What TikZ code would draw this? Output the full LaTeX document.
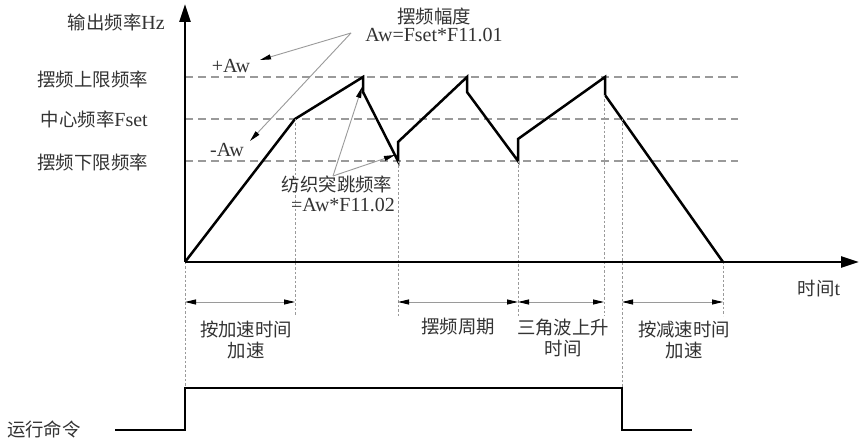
\documentclass[tikz,border=0pt]{standalone}
\usepackage{fontspec}
\setmainfont{Liberation Serif}
\newfontfamily\cjk{Noto Sans CJK SC}[Scale=0.92]
\usepackage{tikz}
\usetikzlibrary{positioning,arrows.meta,calc}
\definecolor{GuideGray}{HTML}{9A9A9A}
\definecolor{TextDark}{HTML}{333333}

\begin{document}
\begin{tikzpicture}[x=1pt,y=-1pt,
    every node/.style={font=\fontsize{20}{21}\selectfont,text=TextDark,inner sep=1pt},
    wave/.style={line width=2.5pt,line join=miter},
    axis/.style={line width=2.4pt,-{Triangle[length=18pt,width=11pt]}},
    guide/.style={GuideGray,line width=1.2pt,dash pattern=on 8pt off 5pt},
    vguide/.style={GuideGray,line width=0.9pt,dash pattern=on 2.5pt off 2pt},
    dim/.style={{Triangle[length=11pt,width=5pt,color=black]}-{Triangle[length=11pt,width=5pt,color=black]},GuideGray,line width=0.9pt},
    ar/.style={-{Triangle[length=11pt,width=5pt,color=black]},GuideGray,line width=0.9pt}]
  \useasboundingbox (0,0) rectangle (860,438);
  \fill[white] (0,0) rectangle (860,438);

  % axes
  \coordinate (o) at (185,262);
  \coordinate (ytop) at (185,4);
  \coordinate (xend) at (859,262);
  \draw[guide] (185,77) -- (738,77);
  \draw[guide] (185,119) -- (738,119);
  \draw[guide] (185,161) -- (738,161);

  % output frequency
  \coordinate (w1) at (295,119);  \coordinate (w2) at (363,77);
  \coordinate (w3) at (363,92);   \coordinate (w4) at (398,161);
  \coordinate (w5) at (398,142);  \coordinate (w6) at (467,77);
  \coordinate (w7) at (467,92);   \coordinate (w8) at (518,161);
  \coordinate (w9) at (518,139);  \coordinate (w10) at (605,77);
  \coordinate (w11) at (605,95);  \coordinate (w12) at (723,262);
  \coordinate (wc) at (622,119);
  \draw[wave] (o) -- (w1) -- (w2) -- (w3) -- (w4) -- (w5) -- (w6) -- (w7)
    -- (w8) -- (w9) -- (w10) -- (w11) -- (w12);

  % run command
  \coordinate (r0) at (115,430); \coordinate (r1) at (185,430);
  \coordinate (r2) at (185,388); \coordinate (r3) at (622,388);
  \coordinate (r4) at (622,430); \coordinate (r5) at (692,430);
  \draw[line width=2.3pt] (r0) -- (r1) -- (r2) -- (r3) -- (r4) -- (r5);

  % time marks
  \draw[vguide] (o) -- (r2);
  \draw[vguide] (w1) -- (295,316);
  \draw[vguide] (w4) -- (398,316);
  \draw[vguide] (w8) -- (518,316);
  \draw[vguide] (604,95) -- (604,316);
  \draw[vguide] (wc) -- (r3);
  \draw[vguide] (w12) -- (723,316);
  \draw[axis] (o) -- (ytop);
  \draw[axis] (o) -- (xend);

  \coordinate (d1) at (185,302); \coordinate (d2) at (295,302);
  \coordinate (d3) at (398,302); \coordinate (d4) at (518,302);
  \coordinate (d5) at (604,302); \coordinate (d6) at (622,302);
  \coordinate (d7) at (723,302);
  \draw[dim] (d1) -- (d2);
  \draw[dim] (d3) -- (d4);
  \draw[dim] (d4) -- (d5);
  \draw[dim] (d6) -- (d7);

  % labels
  \node[anchor=east] (fout) at (166,22) {{\cjk 输出频率}Hz};
  \node[anchor=east] (fup) at (149,79) {\cjk 摆频上限频率};
  \node[anchor=east] (fset) at (149,119) {{\cjk 中心频率}Fset};
  \node[anchor=east] (flow) at (149,162) {\cjk 摆频下限频率};
  \node (tlab) at (819,289) {{\cjk 时间}t};
  \node (run) at (44,429) {\cjk 运行命令};
  \node[align=center] (acc) at (246,340) {\cjk 按加速时间\\\cjk 加速};
  \node (per) at (458,327) {\cjk 摆频周期};
  \node[align=center] (rise) at (563,338) {\cjk 三角波上升\\\cjk 时间};
  \node[align=center] (dec) at (684,340) {\cjk 按减速时间\\\cjk 加速};

  \node (pAw) at (231,66) {+Aw};
  \node (mAw) at (227,150) {-Aw};
  \node (amp) at (434,16) {\cjk 摆频幅度};
  \node (ampf) at (434,35) {Aw=Fset*F11.01};
  \node (jmp) at (337,184) {\cjk 纺织突跳频率};
  \node (jmpf) at (343,205) {=Aw*F11.02};

  \coordinate (a0) at (351,33);
  \coordinate (j0) at (333,176);
  \draw[ar] (a0) -- (260,60);
  \draw[ar] (a0) -- (250,141);
  \draw[ar] (j0) -- (362,87);
  \draw[ar] (j0) -- (395,155);
\end{tikzpicture}
\end{document}
